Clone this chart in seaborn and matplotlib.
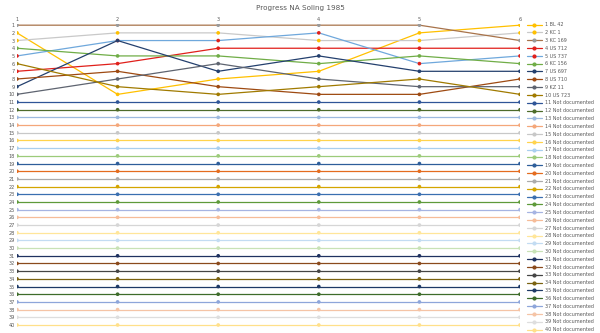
import matplotlib
matplotlib.use("Agg")
import matplotlib.pyplot as plt
from matplotlib.lines import Line2D
import pandas as pd
import seaborn as sns

races = [1, 2, 3, 4, 5, 6]

# Standings after each race for the ten documented boats
boats = ["1 BL 42", "2 KC 1", "3 KC 169", "4 US 712", "5 US 737",
         "6 KC 156", "7 US 697", "8 US 710", "9 KZ 11", "10 US 723"]
bl_42 = [2, 10, 8, 7, 2, 1]
kc_1 = [3, 2, 2, 3, 3, 2]
kc_169 = [1, 1, 1, 1, 1, 3]
us_712 = [7, 6, 4, 4, 4, 4]
us_737 = [5, 3, 3, 2, 6, 5]
kc_156 = [4, 5, 5, 6, 5, 6]
us_697 = [9, 3, 7, 5, 7, 7]
us_710 = [8, 7, 9, 10, 10, 8]
kz_11 = [10, 8, 6, 8, 9, 9]
us_723 = [6, 9, 10, 9, 8, 10]
documented = [bl_42, kc_1, kc_169, us_712, us_737,
              kc_156, us_697, us_710, kz_11, us_723]

# Remaining places: no race results, kept at their place
undocumented_ranks = [11, 12, 13, 14, 15, 16, 17, 18, 19, 20,
                      21, 22, 23, 24, 25, 26, 27, 28, 29, 30,
                      31, 32, 33, 34, 35, 36, 37, 38, 39, 40]

line_colors = [
    "#FFC000", "#C9C9C9", "#A8734A", "#E0201B", "#6FA8DC",
    "#70AD47", "#24406E", "#9E4A12", "#5E6470", "#A07A00",
    "#2F5597", "#4D6B2A", "#9DB9DE", "#F4A77A", "#C8C8C8",
    "#FFD34D", "#A9CFEF", "#9CCB7A", "#2E5E9A", "#E46C1F",
    "#ABABAB", "#D4A500", "#3A6FB0", "#5E9A3A", "#A6B4E2",
    "#F6BC98", "#D6D6D6", "#FFE69A", "#C3DCF2", "#C8E2B6",
    "#1F3260", "#8A4A1C", "#454545", "#7A6210", "#1E3A66",
    "#3E6C2A", "#8EA6DA", "#F5C4A6", "#DEDEDE", "#FFE08A",
]
marker_colors = list(line_colors)
marker_colors[1] = "#FFC000"
marker_colors[2] = "#9A9A9A"
marker_colors[4] = "#E0201B"

labels = boats + [f"{r} Not documented" for r in undocumented_ranks]
rows = []
for name, ranks in zip(boats, documented):
    for race, rank in zip(races, ranks):
        rows.append((name, race, rank))
for r in undocumented_ranks:
    for race in races:
        rows.append((f"{r} Not documented", race, r))
df = pd.DataFrame(rows, columns=["series", "race", "rank"])

sns.set_style("white")
plt.rcParams["font.family"] = ["DejaVu Sans"]
text_color = "#595959"

fig = plt.figure(figsize=(6.0, 3.33), dpi=100)
ax = fig.add_axes([0.0283, 0.0195, 0.8384, 0.9095])

line_pal = dict(zip(labels, line_colors))
marker_pal = dict(zip(labels, marker_colors))

sns.lineplot(data=df, x="race", y="rank", hue="series", hue_order=labels,
             palette=line_pal, estimator=None, sort=False, linewidth=0.9,
             legend=False, ax=ax)
sns.scatterplot(data=df, x="race", y="rank", hue="series", hue_order=labels,
                palette=marker_pal, s=7, linewidth=0, marker="o",
                legend=False, ax=ax, zorder=5)

ax.set_xlim(1, 6)
ax.set_ylim(40.2, 0.8)
ax.set_xticks(races)
ax.set_yticks(list(range(1, 41)))
ax.xaxis.tick_top()
ax.tick_params(axis="both", length=0, labelsize=3.6, colors=text_color, pad=1.5)
ax.set_xlabel("")
ax.set_ylabel("")
for s in ax.spines.values():
    s.set_visible(False)
ax.grid(False)

fig.suptitle("Progress NA Soling 1985", x=0.5, y=0.984, fontsize=5.2,
             color=text_color)

handles = [Line2D([0], [0], color=lc, lw=0.9, marker="o", markersize=2,
                  markerfacecolor=mc, markeredgecolor=mc)
           for lc, mc in zip(line_colors, marker_colors)]
leg = ax.legend(handles, labels, loc="upper left", bbox_to_anchor=(1.01, 1.011),
                frameon=False, fontsize=3.5, labelspacing=0.58,
                handlelength=3.0, handletextpad=0.8, borderaxespad=0)
for t in leg.get_texts():
    t.set_color(text_color)

fig.savefig("out.png", dpi=100)
